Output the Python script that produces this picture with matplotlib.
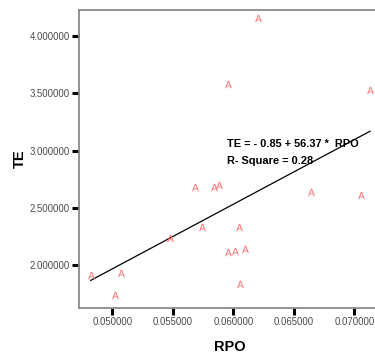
import matplotlib as mpl
from matplotlib import pyplot as plt
import numpy as np

mpl.rcParams['font.family'] = ['Liberation Sans', 'DejaVu Sans']

rpo = [0.04821, 0.05072, 0.05020, 0.05477, 0.05683, 0.05840, 0.05884,
       0.05744, 0.06047, 0.05954, 0.06017, 0.06097, 0.06055, 0.06642,
       0.07058, 0.06204, 0.05954, 0.07130]
te = [1.915, 1.935, 1.740, 2.241, 2.687, 2.687, 2.701,
      2.335, 2.335, 2.119, 2.128, 2.142, 1.837, 2.640,
      2.614, 4.157, 3.583, 3.531]

intercept = -0.85
slope = 56.37
r_square = 0.28

xticks = [0.05, 0.055, 0.06, 0.065, 0.07]
yticks = [2.0, 2.5, 3.0, 3.5, 4.0]

fig = plt.figure(figsize=(3.75, 3.6), dpi=100)
ax = fig.add_axes([0.2107, 0.1444, 0.7893, 0.8292])

ax.scatter(rpo, te, marker='$\\mathsf{A}$', s=28, color='#ff6b6b',
           linewidths=0, zorder=3)

line_x = np.array([min(rpo), max(rpo)])
ax.plot(line_x, intercept + slope * line_x, color='black', lw=0.9, zorder=2)

ax.text(0.05950, 3.059, 'TE = - 0.85 + 56.37 *  RPO', fontsize=7.9,
        fontweight='bold', va='center', ha='left')
ax.text(0.05950, 2.911, f'R- Square = {r_square:.2f}', fontsize=7.9,
        fontweight='bold', va='center', ha='left')

ax.set_xlim(0.04725, 0.07171)
ax.set_ylim(1.627, 4.231)
ax.set_xticks(xticks)
ax.set_yticks(yticks)
ax.set_xticklabels([f'{v:.6f}' for v in xticks])
ax.set_yticklabels([f'{v:.6f}' for v in yticks])
ax.tick_params(direction='out', length=5, width=2.2, color='black',
               labelsize=6.9, labelcolor='#4a4a4a', pad=1.5)

for side in ['left', 'bottom', 'top']:
    ax.spines[side].set_color('#8a8a8a')
    ax.spines[side].set_linewidth(1.3)
ax.spines['right'].set_visible(False)

fig.text(20 / 375, 1 - 159 / 360, 'TE', rotation=90, fontsize=10.5,
         fontweight='bold', ha='center', va='center')
fig.text(230 / 375, 1 - 347 / 360, 'RPO', fontsize=10.5,
         fontweight='bold', ha='center', va='center')

fig.savefig('out.png', dpi=100)
